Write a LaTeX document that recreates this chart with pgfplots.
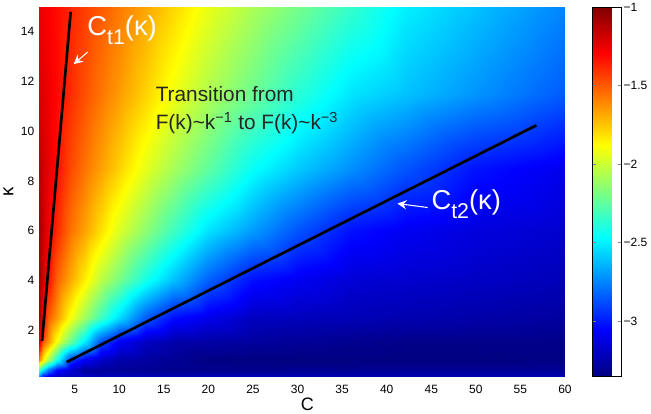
\documentclass[border=0pt]{standalone}
\usepackage{fontspec}
\setmainfont{Liberation Sans}
\usepackage{pgfplots}
\pgfplotsset{compat=1.18}
\usetikzlibrary{arrows.meta}
\begin{document}
\begin{tikzpicture}
\begin{axis}[
  name=ax,
  view={0}{90},
  scale only axis,
  width=394.5pt, height=276.75pt,
  xmin=1, xmax=60, ymin=0.15, ymax=15,
  xtick={5,10,...,60}, ytick={2,4,...,14},
  major tick length=0pt,
  axis line style={draw=none},
  tick label style={font=\fontsize{9}{10}\selectfont},
  xticklabel style={yshift=-3.5pt},
  /pgf/number format/assume math mode=true,
  xlabel={C}, ylabel={κ},
  xlabel style={font=\fontsize{13.5}{15}\selectfont, at={(axis description cs:0.51,0)}, anchor=center, yshift=-21.5pt},
  ylabel style={font=\fontsize{14}{16}\selectfont, at={(axis description cs:0,0.5)}, anchor=center, yshift=23pt},
  colormap/jet,
  point meta min=-3.35, point meta max=-1,
  colorbar,
  colorbar style={
    at={(parent axis.north east)}, anchor=north west, xshift=12pt,
    width=21.75pt,
    ytick={-3,-2.5,-2,-1.5,-1},
    yticklabels={−3,−2.5,−2,−1.5,−1},
    axis line style={draw=black, line width=0.6pt},
    major tick length=2.5pt,
    tick align=inside,
    yticklabel style={font=\fontsize{9}{10}\selectfont, inner sep=1.5pt},
  },
]
% field values: rows of constant kappa, C varies fastest
\addplot3[surf, shader=interp, mesh/cols=17] table[row sep=\\] {
x y z\\
1 0.15 -2.7\\ 1.5 0.15 -3.0\\ 2 0.15 -3.067\\ 3 0.15 -3.2\\ 4.5 0.15 -3.21\\ 6 0.15 -3.21\\ 8 0.15 -3.22\\ 10 0.15 -3.22\\ 13 0.15 -3.22\\ 16 0.15 -3.23\\ 20 0.15 -3.23\\ 25 0.15 -3.23\\ 30 0.15 -3.23\\ 36 0.15 -3.24\\ 42 0.15 -3.24\\ 50 0.15 -3.24\\ 60 0.15 -3.24\\
1 0.4 -2.3\\ 1.5 0.4 -2.545\\ 2 0.4 -2.773\\ 3 0.4 -3.04\\ 4.5 0.4 -3.16\\ 6 0.4 -3.28\\ 8 0.4 -3.289\\ 10 0.4 -3.298\\ 13 0.4 -3.311\\ 16 0.4 -3.32\\ 20 0.4 -3.32\\ 25 0.4 -3.32\\ 30 0.4 -3.31\\ 36 0.4 -3.31\\ 42 0.4 -3.3\\ 50 0.4 -3.3\\ 60 0.4 -3.3\\
1 0.8 -1.6\\ 1.5 0.8 -1.85\\ 2 0.8 -2.071\\ 3 0.8 -2.429\\ 4.5 0.8 -2.92\\ 6 0.8 -3.08\\ 8 0.8 -3.19\\ 10 0.8 -3.25\\ 13 0.8 -3.277\\ 16 0.8 -3.304\\ 20 0.8 -3.34\\ 25 0.8 -3.35\\ 30 0.8 -3.35\\ 36 0.8 -3.35\\ 42 0.8 -3.35\\ 50 0.8 -3.35\\ 60 0.8 -3.34\\
1 1.5 -1.2\\ 1.5 1.5 -1.5\\ 2 1.5 -1.639\\ 3 1.5 -1.917\\ 4.5 1.5 -2.222\\ 6 1.5 -2.5\\ 8 1.5 -2.885\\ 10 1.5 -3.08\\ 13 1.5 -3.2\\ 16 1.5 -3.253\\ 20 1.5 -3.266\\ 25 1.5 -3.282\\ 30 1.5 -3.298\\ 36 1.5 -3.317\\ 42 1.5 -3.33\\ 50 1.5 -3.33\\ 60 1.5 -3.33\\
1 2.5 -1.07\\ 1.5 2.5 -1.3\\ 2 2.5 -1.5\\ 3 2.5 -1.656\\ 4.5 2.5 -1.891\\ 6 2.5 -2.093\\ 8 2.5 -2.326\\ 10 2.5 -2.55\\ 13 2.5 -2.85\\ 16 2.5 -3.029\\ 20 2.5 -3.105\\ 25 2.5 -3.2\\ 30 2.5 -3.211\\ 36 2.5 -3.225\\ 42 2.5 -3.239\\ 50 2.5 -3.257\\ 60 2.5 -3.28\\
1 4 -1.07\\ 1.5 4 -1.2\\ 2 4 -1.322\\ 3 4 -1.521\\ 4.5 4 -1.681\\ 6 4 -1.84\\ 8 4 -2.038\\ 10 4 -2.192\\ 13 4 -2.423\\ 16 4 -2.611\\ 20 4 -2.833\\ 25 4 -3.025\\ 30 4 -3.088\\ 36 4 -3.153\\ 42 4 -3.17\\ 50 4 -3.192\\ 60 4 -3.22\\
1 6 -1.08\\ 1.5 6 -1.17\\ 2 6 -1.256\\ 3 6 -1.391\\ 4.5 6 -1.552\\ 6 6 -1.664\\ 8 6 -1.813\\ 10 6 -1.963\\ 13 6 -2.147\\ 16 6 -2.324\\ 20 6 -2.533\\ 25 6 -2.7\\ 30 6 -2.867\\ 36 6 -3.022\\ 42 6 -3.087\\ 50 6 -3.137\\ 60 6 -3.17\\
1 8.5 -1.13\\ 1.5 8.5 -1.19\\ 2 8.5 -1.238\\ 3 8.5 -1.325\\ 4.5 8.5 -1.456\\ 6 8.5 -1.556\\ 8 8.5 -1.667\\ 10 8.5 -1.778\\ 13 8.5 -1.944\\ 16 8.5 -2.083\\ 20 8.5 -2.25\\ 25 8.5 -2.458\\ 30 8.5 -2.591\\ 36 8.5 -2.727\\ 42 8.5 -2.864\\ 50 8.5 -3.017\\ 60 8.5 -3.1\\
1 11.5 -1.2\\ 1.5 11.5 -1.227\\ 2 11.5 -1.255\\ 3 11.5 -1.309\\ 4.5 11.5 -1.391\\ 6 11.5 -1.473\\ 8 11.5 -1.565\\ 10 11.5 -1.652\\ 13 11.5 -1.783\\ 16 11.5 -1.913\\ 20 11.5 -2.063\\ 25 11.5 -2.219\\ 30 11.5 -2.375\\ 36 11.5 -2.527\\ 42 11.5 -2.608\\ 50 11.5 -2.715\\ 60 11.5 -2.85\\
1 15 -1.25\\ 1.5 15 -1.268\\ 2 15 -1.286\\ 3 15 -1.32\\ 4.5 15 -1.375\\ 6 15 -1.43\\ 8 15 -1.5\\ 10 15 -1.571\\ 13 15 -1.679\\ 16 15 -1.786\\ 20 15 -1.929\\ 25 15 -2.075\\ 30 15 -2.2\\ 36 15 -2.35\\ 42 15 -2.5\\ 50 15 -2.611\\ 60 15 -2.75\\
};
% transition lines
\addplot3[black, line width=2pt] coordinates {(1.34,1.56,0) (4.55,14.8,0)};
\addplot3[black, line width=2pt] coordinates {(4.1,0.71,0) (56.8,10.24,0)};

\node[anchor=base west, text=white, inner sep=0, font=\fontsize{20.5}{22}\selectfont] at (axis cs:6.4,13.84,0) {C\raisebox{-6.5pt}{\fontsize{16}{17}\selectfont t1}(κ)};
\draw[white, line width=0.8pt, -{Stealth[length=7pt, width=7pt, inset=2.5pt]}] (axis cs:6.46,13.19,0) -- (axis cs:4.89,12.7,0);
\node[anchor=base west, text=white, inner sep=0, font=\fontsize{20.5}{22}\selectfont] at (axis cs:45.0,6.85,0) {C\raisebox{-6.5pt}{\fontsize{16}{17}\selectfont t2}(κ)};
\draw[white, line width=0.8pt, -{Stealth[length=7pt, width=7pt, inset=2.5pt]}] (axis cs:44.6,6.93,0) -- (axis cs:41.2,7.09,0);
\node[anchor=base west, inner sep=0, font=\fontsize{15.6}{18}\selectfont, text=black!85] at (axis cs:14.07,11.21,0) {Transition from};
\node[anchor=base west, inner sep=0, font=\fontsize{15.6}{18}\selectfont, text=black!85] at (axis cs:14.07,10.08,0) {F(k)\textasciitilde k\textsuperscript{−1} to F(k)\textasciitilde k\textsuperscript{−3}};
\end{axis}
\pgfresetboundingbox
\useasboundingbox ([xshift=-29.25pt,yshift=-27.75pt]ax.south west) rectangle ([xshift=64.5pt,yshift=5.25pt]ax.north east);
\end{tikzpicture}
\end{document}
